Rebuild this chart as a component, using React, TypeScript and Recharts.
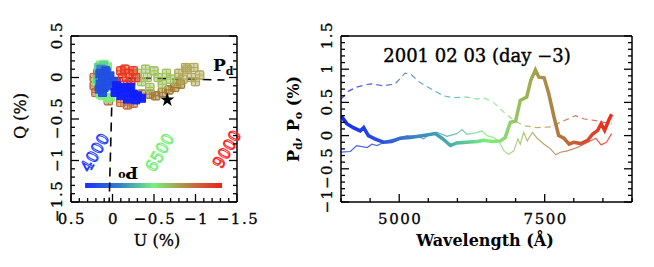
import React from 'react'
import {
  ScatterChart, Scatter, LineChart, Line, XAxis, YAxis, ZAxis,
  ErrorBar, ReferenceLine, ReferenceDot, ReferenceArea,
} from 'recharts'

// ---- right panel: polarization spectra (Å, %) ----
const pdLam = [4000, 4100, 4210, 4330, 4390, 4470, 4580, 4730, 4870, 5015, 5190, 5420, 5620, 5735, 5880, 5990, 6160, 6340, 6450, 6600, 6740, 6820, 6910, 7000, 7080, 7190, 7260, 7340, 7400, 7490, 7570, 7660, 7740, 7830, 7920, 8000, 8120, 8240, 8320, 8410, 8470, 8530, 8600, 8650]
const pdVal = [0.30, 0.18, 0.12, 0.07, 0.12, 0.0, -0.05, -0.10, -0.09, -0.04, -0.03, 0, 0.03, -0.04, -0.15, -0.11, -0.10, -0.09, -0.07, -0.09, -0.08, -0.03, 0.20, 0.22, 0.53, 0.58, 0.83, 0.99, 0.88, 0.87, 0.63, 0.28, 0.0, -0.04, -0.13, -0.10, -0.12, -0.07, 0.02, 0.08, 0.18, 0.08, 0.23, 0.32]

const poLam = [4000, 4160, 4270, 4450, 4530, 4620, 4790, 4960, 5140, 5310, 5420, 5540, 5650, 5820, 5990, 6080, 6160, 6310, 6420, 6510, 6620, 6710, 6800, 6880, 6970, 7040, 7080, 7140, 7200, 7290, 7370, 7490, 7600, 7690, 7770, 7890, 8060, 8240, 8380, 8470, 8560, 8650]
const poVal = [-0.25, -0.24, -0.15, -0.18, -0.13, -0.15, -0.08, -0.04, 0, -0.01, -0.05, 0.03, 0.05, -0.01, 0.03, 0.09, 0.02, 0.04, 0.07, 0, -0.03, -0.08, -0.23, -0.28, -0.23, -0.05, -0.13, 0.05, -0.08, 0.05, -0.04, -0.13, -0.20, -0.29, -0.25, -0.23, -0.18, -0.10, -0.04, -0.14, -0.10, 0.03]

const ptLam = [4000, 4130, 4270, 4500, 4730, 4930, 5100, 5190, 5360, 5590, 5760, 5930, 6160, 6340, 6450, 6620, 6800, 6970, 7140, 7370, 7600, 7770, 8030, 8180, 8350, 8520, 8650]
const ptVal = [0.55, 0.67, 0.73, 0.78, 0.75, 0.78, 0.94, 0.93, 0.80, 0.68, 0.60, 0.57, 0.58, 0.55, 0.57, 0.50, 0.35, 0.23, 0.15, 0.12, 0.13, 0.20, 0.30, 0.25, 0.23, 0.20, 0.18]

// ---- left panel: (U, Q) points grouped by wavelength bin ----
const qu4200: [number, number][] = [[-0.05, -0.10], [-0.10, -0.15], [-0.15, -0.12], [-0.20, -0.18], [-0.25, -0.20], [-0.30, -0.22], [-0.35, -0.25], [-0.10, -0.22], [-0.18, -0.26], [-0.28, -0.27], [-0.03, -0.18], [-0.22, -0.12]]
const qu4700: [number, number][] = [[0.15, 0.05], [0.12, 0.0], [0.15, -0.08], [0.10, -0.12], [0.05, -0.05], [0.0, -0.10], [0.08, 0.08], [0.12, -0.18], [0.03, 0.02], [-0.05, -0.05], [0.16, -0.14]]
const qu5300: [number, number][] = [[0.14, 0.10], [0.10, 0.09], [0.12, 0.05], [0.07, 0.06], [0.16, 0.03]]
const qu5900: [number, number][] = [[0.17, 0.12], [0.11, 0.14], [0.18, -0.02]]
const qu6500: [number, number][] = [[0.15, 0.15], [0.10, 0.16], [0.06, 0.13], [0.12, -0.22], [0.06, -0.25], [0.02, -0.24], [0.15, -0.20], [0.19, -0.05]]
const qu7000: [number, number][] = [[-0.30, 0.05], [-0.35, -0.05], [-0.42, 0.0], [-0.45, -0.12], [-0.50, 0.08], [-0.55, 0.0], [-0.60, -0.08], [-0.65, 0.05], [-0.70, -0.02], [-0.40, 0.10]]
const qu7350: [number, number][] = [[-0.80, 0.05], [-0.85, -0.02], [-0.90, 0.10], [-0.95, 0.0], [-1.0, -0.05], [-1.05, 0.03], [-0.88, 0.12], [-0.78, -0.06], [-0.98, 0.12]]
const qu7700: [number, number][] = [[-0.45, -0.20], [-0.52, -0.22], [-0.60, -0.18], [-0.68, -0.15], [-0.75, -0.12], [-0.82, -0.08], [-0.35, -0.20]]
const qu8150: [number, number][] = [[0.22, 0.0], [0.22, -0.10], [0.20, -0.18], [0.18, 0.05], [-0.10, -0.30], [-0.18, -0.33], [-0.25, -0.31], [0.05, -0.28]]
const qu8550: [number, number][] = [[-0.10, 0.08], [-0.15, 0.10], [-0.20, 0.05], [-0.25, 0.08], [-0.28, 0.0], [-0.22, -0.05], [-0.12, 0.0], [-0.18, -0.08]]
const isp: [number, number][] = [[-0.66, -0.27]]

// ticks
const quTicks = [-1.5, -1.4, -1.3, -1.2, -1.1, -1, -0.9, -0.8, -0.7, -0.6, -0.5, -0.4, -0.3, -0.2, -0.1, 0, 0.1, 0.2, 0.3, 0.4, 0.5]
const quMajor = [-1.5, -1, -0.5, 0, 0.5]
const lamTicks = [4000, 4500, 5000, 5500, 6000, 6500, 7000, 7500, 8000, 8500, 9000]
const lamMajor = [5000, 7500]
const pTicks = [-1, -0.9, -0.8, -0.7, -0.6, -0.5, -0.4, -0.3, -0.2, -0.1, 0, 0.1, 0.2, 0.3, 0.4, 0.5, 0.6, 0.7, 0.8, 0.9, 1, 1.1, 1.2, 1.3, 1.4, 1.5]
const pMajor = [-1, -0.5, 0, 0.5, 1, 1.5]

const SERIF = '"DejaVu Serif", "Liberation Serif", serif'

const toRows = (lam: number[], val: number[]) => lam.map((l, i) => ({ lam: l, p: val[i] }))
const toPts = (pts: [number, number][], e: number) => pts.map(([u, q]) => ({ u, q, eu: e, eq: e }))

// drawing order: fringes first, blue block on top
const bins = [
  { pts: qu8150, color: '#c06a38', err: 0.05, solid: false },
  { pts: qu6500, color: '#80ec80', err: 0.04, solid: true },
  { pts: qu5900, color: '#60d098', err: 0.04, solid: true },
  { pts: qu7700, color: '#a07830', err: 0.05, solid: false },
  { pts: qu7350, color: '#b0a858', err: 0.05, solid: false },
  { pts: qu7000, color: '#a0c060', err: 0.05, solid: false },
  { pts: qu5300, color: '#3c80c0', err: 0.04, solid: true },
  { pts: qu4700, color: '#2050e0', err: 0.03, solid: true },
  { pts: qu8550, color: '#e83820', err: 0.05, solid: false },
  { pts: qu4200, color: '#1020ff', err: 0.03, solid: true },
]

const near = (arr: number[], v: number) => arr.some(m => Math.abs(m - v) < 1e-6)
const fmt = (v: number) => (Math.abs(v) < 1e-9 ? '0' : (v < 0 ? '\u2212' : '') + String(Math.abs(v)))

type Side = 'bottom' | 'top' | 'left' | 'right'

function makeTick(side: Side, majors: number[], labels: number[]) {
  return (props: any) => {
    const { x, y, payload } = props
    const v = payload.value as number
    const len = near(majors, v) ? 8 : 4
    let x2 = x, y2 = y
    if (side === 'bottom') y2 = y - len
    if (side === 'top') y2 = y + len
    if (side === 'left') x2 = x + len
    if (side === 'right') x2 = x - len
    const lab = near(labels, v)
    const txt = { fontFamily: SERIF, fontSize: 15, fill: '#000', stroke: '#000', strokeWidth: 0.3, letterSpacing: 1.5 }
    return (
      <g>
        <line x1={x} y1={y} x2={x2} y2={y2} stroke="#000" strokeWidth={1.3} />
        {lab && side === 'bottom' && (
          <text x={x + 1} y={y + 22} textAnchor="middle" {...txt}>{fmt(v)}</text>
        )}
        {lab && side === 'left' && (
          <text x={x - 9} y={y - 1} textAnchor="middle" {...txt}
            transform={`rotate(-90 ${x - 9} ${y - 1})`}>{fmt(v)}</text>
        )}
      </g>
    )
  }
}

const axisLine = { stroke: '#000', strokeWidth: 1.5 }
const common = { type: 'number' as const, allowDataOverflow: true, interval: 0 as const, tickSize: 0, tickMargin: 0, tickLine: false, axisLine }

function RotLabel({ text, color }: { text: string; color: string }) {
  return (p: any) => (
    <text x={p.cx} y={p.cy} textAnchor="middle" dominantBaseline="middle" fontFamily={SERIF} fontSize={16}
      fill="none" stroke={color} strokeWidth={1} transform={`rotate(-60 ${p.cx} ${p.cy})`}>{text}</text>
  )
}

// axes get 1px of thickness so they render; margins are reduced to match
function QUPanel() {
  return (
    <ScatterChart width={260} height={267} margin={{ top: 35, right: 22, bottom: 64, left: 70 }}>
      <defs>
        <linearGradient id="cbar" x1="0" y1="0" x2="1" y2="0">
          <stop offset="0" stopColor="#1a30f8" />
          <stop offset="0.25" stopColor="#3080c8" />
          <stop offset="0.5" stopColor="#78f080" />
          <stop offset="0.68" stopColor="#a8a050" />
          <stop offset="0.85" stopColor="#d05838" />
          <stop offset="1" stopColor="#f02018" />
        </linearGradient>
      </defs>
      <XAxis {...common} dataKey="u" domain={[-1.5, 0.5]} reversed ticks={quTicks} height={1}
        tick={makeTick('bottom', quMajor, quMajor)} />
      <XAxis {...common} xAxisId="top" orientation="top" domain={[-1.5, 0.5]} reversed ticks={quTicks} height={1}
        tick={makeTick('top', quMajor, [])} />
      <YAxis {...common} dataKey="q" domain={[-1.5, 0.5]} ticks={quTicks} width={1}
        tick={makeTick('left', quMajor, quMajor)} />
      <YAxis {...common} yAxisId="right" orientation="right" domain={[-1.5, 0.5]} ticks={quTicks} width={1}
        tick={makeTick('right', quMajor, [])} />
      <ZAxis range={[45, 45]} />
      <ZAxis zAxisId="star" range={[45, 45]} />

      <ReferenceArea x1={0.33} x2={-1.32} y1={-1.27} y2={-1.33} fill="url(#cbar)" fillOpacity={1} stroke="none" ifOverflow="visible" />
      <ReferenceDot x={0.2} y={-0.91} r={0} ifOverflow="visible" shape={RotLabel({ text: '4000', color: '#2040ff' })} />
      <ReferenceDot x={-0.58} y={-0.91} r={0} ifOverflow="visible" shape={RotLabel({ text: '6500', color: '#70f070' })} />
      <ReferenceDot x={-1.39} y={-0.87} r={0} ifOverflow="visible" shape={RotLabel({ text: '9000', color: '#ff2020' })} />

      {bins.map((b, i) => (
        <Scatter key={i} data={toPts(b.pts, b.err)} shape="square" fill={b.color}
          fillOpacity={b.solid ? 0.95 : 0.5} stroke={b.color} strokeWidth={1} isAnimationActive={false}>
          <ErrorBar dataKey="eu" direction="x" width={3} stroke={b.color} strokeWidth={1} />
          <ErrorBar dataKey="eq" direction="y" width={3} stroke={b.color} strokeWidth={1} />
        </Scatter>
      ))}
      <Scatter data={toPts(isp, 0)} zAxisId="star" shape="star" fill="#000" isAnimationActive={false} />

      <ReferenceLine segment={[{ x: 0, y: 0 }, { x: -1.35, y: -0.03 }]} stroke="#000" strokeWidth={1.6} strokeDasharray="9 6" ifOverflow="visible" />
      <ReferenceLine segment={[{ x: 0, y: 0 }, { x: 0.04, y: -1.5 }]} stroke="#000" strokeWidth={1.6} strokeDasharray="9 6" ifOverflow="visible" />
      <ReferenceDot x={-1.21} y={0.08} r={0} ifOverflow="visible" shape={(p: any) => (
        <text x={p.cx} y={p.cy} fontFamily={SERIF} fontSize={17} fontWeight="bold" fill="#000">
          P<tspan fontSize={11} dy={4}>d</tspan>
        </text>
      )} />
      <ReferenceDot x={-0.19} y={-1.13} r={0} ifOverflow="visible" shape={(p: any) => (
        <text x={p.cx} y={p.cy} textAnchor="middle" dominantBaseline="middle" fontFamily={SERIF} fontSize={17} fontWeight="bold" fill="#000"
          transform={`rotate(180 ${p.cx} ${p.cy})`}>
          P<tspan fontSize={11} dy={-4}>o</tspan>
        </text>
      )} />
    </ScatterChart>
  )
}

const specStops = [
  ['0', '#1028ff'], ['0.13', '#2848e0'], ['0.28', '#3c88c0'], ['0.41', '#48b0a8'],
  ['0.54', '#78f078'], ['0.62', '#90d070'], ['0.69', '#a0b050'], ['0.75', '#a89048'],
  ['0.82', '#b87038'], ['0.9', '#d05030'], ['1', '#f02818'],
]

function SpecPanel() {
  return (
    <LineChart width={384} height={267} margin={{ top: 35, right: 21, bottom: 64, left: 70 }}>
      <defs>
        <linearGradient id="spec" x1="0" y1="0" x2="1" y2="0">
          {specStops.map(([o, c]) => <stop key={o} offset={o} stopColor={c} />)}
        </linearGradient>
      </defs>
      <XAxis {...common} dataKey="lam" domain={[4000, 9000]} ticks={lamTicks} height={1}
        tick={makeTick('bottom', lamMajor, lamMajor)} />
      <XAxis {...common} xAxisId="top" orientation="top" domain={[4000, 9000]} ticks={lamTicks} height={1}
        tick={makeTick('top', lamMajor, [])} />
      <YAxis {...common} domain={[-1, 1.5]} ticks={pTicks} width={1}
        tick={makeTick('left', pMajor, pMajor)} />
      <YAxis {...common} yAxisId="right" orientation="right" domain={[-1, 1.5]} ticks={pTicks} width={1}
        tick={makeTick('right', pMajor, [])} />
      <Line data={toRows(ptLam, ptVal)} dataKey="p" stroke="url(#spec)" strokeOpacity={0.8} strokeWidth={1.2}
        strokeDasharray="6 4" dot={false} isAnimationActive={false} />
      <Line data={toRows(poLam, poVal)} dataKey="p" stroke="url(#spec)" strokeOpacity={0.8} strokeWidth={1.2}
        dot={false} isAnimationActive={false} />
      <Line data={toRows(pdLam, pdVal)} dataKey="p" stroke="url(#spec)" strokeWidth={3.5}
        dot={false} isAnimationActive={false} />
    </LineChart>
  )
}

export default function App() {
  return (
    <div style={{ position: 'absolute', left: 0, top: 0, width: 654, height: 267, background: '#fff' }}>
      <div style={{ position: 'absolute', left: 0, top: 0 }}><QUPanel /></div>
      <div style={{ position: 'absolute', left: 270, top: 0 }}><SpecPanel /></div>
      <svg width={654} height={267} style={{ position: 'absolute', left: 0, top: 0, pointerEvents: 'none' }}>
        <g fontFamily={SERIF} fill="#000">
          <text x={26} y={116} fontSize={16} textAnchor="middle" stroke="#000" strokeWidth={0.3} transform="rotate(-90 26 116)">Q (%)</text>
          <text x={157} y={246} fontSize={16} textAnchor="middle" stroke="#000" strokeWidth={0.3}>U (%)</text>
          <text x={299} y={119} fontSize={16} fontWeight="bold" textAnchor="middle" transform="rotate(-90 299 119)">
            P<tspan fontSize={11} dy={3}>d</tspan><tspan dy={-3}>, P</tspan><tspan fontSize={11} dy={3}>o</tspan><tspan dy={-3}> (%)</tspan>
          </text>
          <text x={477} y={62} fontSize={18} textAnchor="middle" stroke="#000" strokeWidth={0.4}>2001 02 03 (day {'\u2212'}3)</text>
          <text x={485} y={246} fontSize={16} fontWeight="bold" textAnchor="middle">Wavelength (Å)</text>
        </g>
      </svg>
    </div>
  )
}
